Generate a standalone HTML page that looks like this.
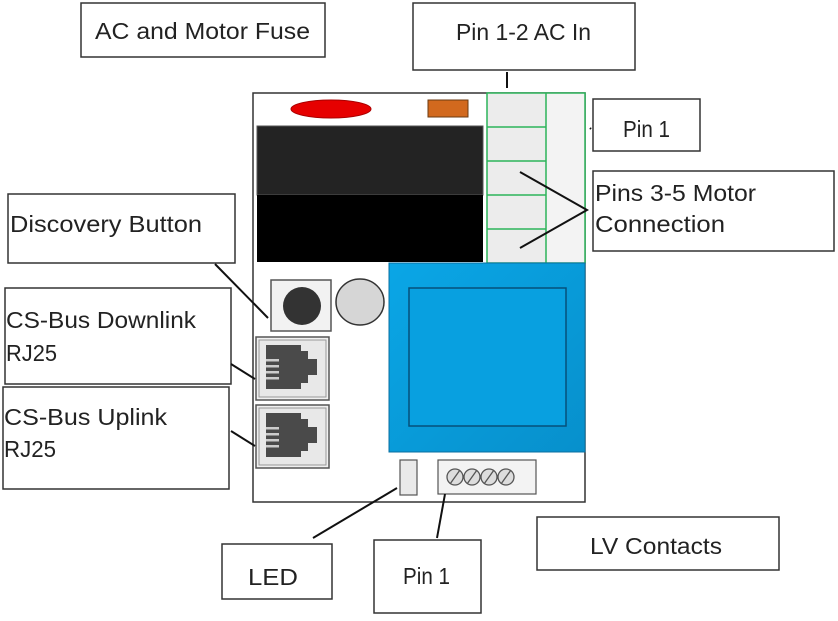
<!DOCTYPE html>
<html><head><meta charset="utf-8"><style>
html,body{margin:0;padding:0;background:#fff;}
svg text{font-family:"Liberation Sans",sans-serif;font-size:23px;fill:#222;}
</style></head><body>
<svg width="838" height="616" viewBox="0 0 838 616" xmlns="http://www.w3.org/2000/svg">
<defs>
<linearGradient id="bl" x1="0" x2="1" y1="0" y2="1"><stop offset="0" stop-color="#0aa6e6"/><stop offset="1" stop-color="#0790cc"/></linearGradient>
<g id="rj">
<rect x="0" y="0" width="73" height="63" fill="#f0f0f0" stroke="#555" stroke-width="1.5"/>
<rect x="3" y="3" width="67" height="57" fill="#e8e8e8" stroke="#999" stroke-width="1"/>
<polygon points="10,8 45,8 45,14 52,14 52,22 61,22 61,38 52,38 52,46 45,46 45,52 10,52" fill="#4a4a4a"/>
<rect x="10" y="22" width="13" height="2.5" fill="#ccc"/><rect x="10" y="28" width="13" height="2.5" fill="#ccc"/>
<rect x="10" y="34" width="13" height="2.5" fill="#ccc"/><rect x="10" y="40" width="13" height="2.5" fill="#ccc"/>
</g>
</defs>
<rect x="253" y="93" width="332" height="409" fill="#fff" stroke="#333" stroke-width="1.5"/>
<ellipse cx="331" cy="109" rx="40" ry="9" fill="#e60000" stroke="#a00" stroke-width="1"/>
<rect x="428" y="100" width="40" height="17" fill="#d2691e" stroke="#6b3a10" stroke-width="1"/>
<rect x="257" y="126" width="226" height="69" fill="#232323" stroke="#555"/>
<rect x="257" y="195" width="226" height="67" fill="#000"/>
<rect x="487" y="93" width="98" height="170" fill="#ececec"/>
<rect x="546" y="93" width="39" height="170" fill="#f3f3f3"/>
<g fill="none" stroke="#2cb35a" stroke-width="1.5">
<rect x="487" y="93" width="98" height="170"/>
<line x1="546" y1="93" x2="546" y2="263"/>
<line x1="487" y1="127" x2="546" y2="127"/><line x1="487" y1="161" x2="546" y2="161"/>
<line x1="487" y1="195" x2="546" y2="195"/><line x1="487" y1="229" x2="546" y2="229"/>
</g>
<rect x="389" y="263" width="196" height="189" fill="url(#bl)" stroke="#0a6fa0" stroke-width="1"/>
<rect x="409" y="288" width="157" height="138" fill="#08a0e0" stroke="#06507a" stroke-width="1.5"/>
<rect x="271" y="280" width="60" height="51" fill="#f2f2f2" stroke="#555" stroke-width="1.5"/>
<circle cx="302" cy="306" r="19" fill="#333"/>
<ellipse cx="360" cy="302" rx="24" ry="23" fill="#d6d6d6" stroke="#333" stroke-width="1.5"/>
<use href="#rj" x="256" y="337"/>
<use href="#rj" x="256" y="405"/>
<rect x="400" y="460" width="17" height="35" fill="#eaeaea" stroke="#555" stroke-width="1.2"/>
<rect x="438" y="460" width="98" height="34" fill="#f3f3f3" stroke="#555" stroke-width="1.2"/>
<g fill="#ddd" stroke="#555" stroke-width="1.3">
<circle cx="455" cy="477" r="8"/><circle cx="472" cy="477" r="8"/><circle cx="489" cy="477" r="8"/><circle cx="506" cy="477" r="8"/>
</g>
<g stroke="#555" stroke-width="1.3">
<line x1="450" y1="484" x2="460" y2="470"/><line x1="467" y1="484" x2="477" y2="470"/><line x1="484" y1="484" x2="494" y2="470"/><line x1="501" y1="484" x2="511" y2="470"/>
</g>
<g fill="#fff" stroke="#333" stroke-width="1.5">
<rect x="81" y="3" width="244" height="54"/>
<rect x="413" y="3" width="222" height="67"/>
<rect x="593" y="99" width="107" height="52"/>
<rect x="593" y="171" width="241" height="80"/>
<rect x="8" y="194" width="227" height="69"/>
<rect x="5" y="288" width="226" height="96"/>
<rect x="3" y="387" width="226" height="102"/>
<rect x="222" y="544" width="110" height="55"/>
<rect x="374" y="540" width="107" height="73"/>
<rect x="537" y="517" width="242" height="53"/>
</g>
<text x="95" y="39" textLength="215" lengthAdjust="spacingAndGlyphs">AC and Motor Fuse</text>
<text x="456" y="40" textLength="135" lengthAdjust="spacingAndGlyphs">Pin 1-2 AC In</text>
<text x="623" y="137" textLength="47" lengthAdjust="spacingAndGlyphs">Pin 1</text>
<text x="595" y="201" textLength="161" lengthAdjust="spacingAndGlyphs">Pins 3-5 Motor</text>
<text x="595" y="232" textLength="130" lengthAdjust="spacingAndGlyphs">Connection</text>
<text x="10" y="232" textLength="192" lengthAdjust="spacingAndGlyphs">Discovery Button</text>
<text x="6" y="328" textLength="190" lengthAdjust="spacingAndGlyphs">CS-Bus Downlink</text>
<text x="6" y="361" textLength="51" lengthAdjust="spacingAndGlyphs">RJ25</text>
<text x="4" y="425" textLength="163" lengthAdjust="spacingAndGlyphs">CS-Bus Uplink</text>
<text x="4" y="457" textLength="52" lengthAdjust="spacingAndGlyphs">RJ25</text>
<text x="248" y="585" textLength="50" lengthAdjust="spacingAndGlyphs">LED</text>
<text x="403" y="584" textLength="47" lengthAdjust="spacingAndGlyphs">Pin 1</text>
<text x="590" y="554" textLength="132" lengthAdjust="spacingAndGlyphs">LV Contacts</text>
<g stroke="#111" stroke-width="2" fill="none">
<line x1="507" y1="72" x2="507" y2="88"/>
<polyline points="520,172 587,210 520,248"/>
<line x1="215" y1="264" x2="268" y2="318"/>
<line x1="231" y1="364" x2="255" y2="379"/>
<line x1="231" y1="431" x2="255" y2="446"/>
<line x1="313" y1="538" x2="397" y2="488"/>
<line x1="437" y1="538" x2="445" y2="494"/>
<line x1="590" y1="128" x2="591" y2="129"/>
</g>
</svg>
</body></html>
